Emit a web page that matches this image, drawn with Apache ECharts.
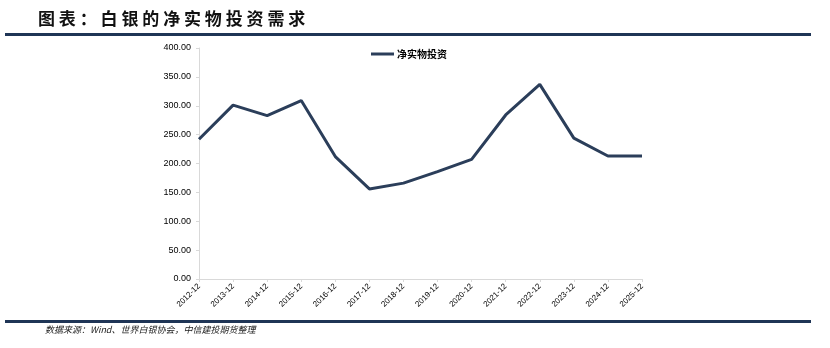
<!DOCTYPE html>
<html><head><meta charset="utf-8">
<script src="https://cdn.jsdelivr.net/npm/echarts@6/dist/echarts.min.js"></script>
<style>html,body{margin:0;padding:0;background:#fff}#c{width:830px;height:348px}</style>
</head><body><div id="c"></div>
<script>
const categories = ['2012-12','2013-12','2014-12','2015-12','2016-12','2017-12','2018-12','2019-12','2020-12','2021-12','2022-12','2023-12','2024-12','2025-12'];
const netPhysicalInvestment = [242, 301, 283, 309, 212, 156, 166, 186, 207, 284, 337, 244, 213, 213];
const seriesName = '净实物投资';
const yTicks = {min: 0, max: 400, interval: 50};
const titleText = '图表：白银的净实物投资需求';
const sourceText = '数据来源：Wind、世界白银协会，中信建投期货整理';

const chart = echarts.init(document.getElementById('c'), null, {renderer: 'canvas'});
chart.setOption({
  animation: false,
  backgroundColor: '#fff',
  grid: {left: 199, right: 188, top: 48, bottom: 69},
  legend: {
    data: [seriesName], top: 44, left: 366,
    itemWidth: 23, itemHeight: 3, itemGap: 2,
    icon: 'rect',
    textStyle: {fontSize: 10, color: '#000', fontFamily: 'Noto Sans CJK SC', fontWeight: 'bold', padding: [0,0,0,-2]}
  },
  xAxis: {
    type: 'category', data: categories, boundaryGap: false,
    axisLine: {lineStyle: {color: '#d9d9d9', width: 1}},
    axisTick: {show: true, lineStyle: {color: '#d9d9d9'}, length: 3},
    axisLabel: {rotate: 45, fontSize: 8, color: '#000', interval: 0, margin: 6, fontFamily: 'Liberation Sans'}
  },
  yAxis: {
    type: 'value', min: yTicks.min, max: yTicks.max, interval: yTicks.interval,
    axisLine: {show: true, lineStyle: {color: '#d9d9d9'}},
    axisTick: {show: true, lineStyle: {color: '#d9d9d9'}, length: 3},
    splitLine: {show: false},
    axisLabel: {fontSize: 9, color: '#000', margin: 8, fontFamily: 'Liberation Sans',
      formatter: v => v.toFixed(2)}
  },
  series: [{
    name: seriesName, type: 'line', data: netPhysicalInvestment,
    symbol: 'none', lineStyle: {color: '#2b3e5a', width: 3}, itemStyle: {color: '#2b3e5a'}
  }],
  graphic: [
    {type: 'text', left: 38, top: 10, style: {text: titleText.split('').join(' '), fontSize: 17, fontWeight: 'bold', fill: '#111', fontFamily: 'Noto Sans CJK SC'}},
    {type: 'rect', shape: {x: 5, y: 33, width: 806, height: 3}, style: {fill: '#1f3556'}},
    {type: 'rect', shape: {x: 5, y: 320, width: 806, height: 3}, style: {fill: '#1f3556'}},
    {type: 'text', left: 45, top: 325, style: {text: sourceText, fontSize: 9, fontStyle: 'italic', fill: '#222', fontFamily: 'Noto Sans CJK SC'}}
  ]
});
</script></body></html>
